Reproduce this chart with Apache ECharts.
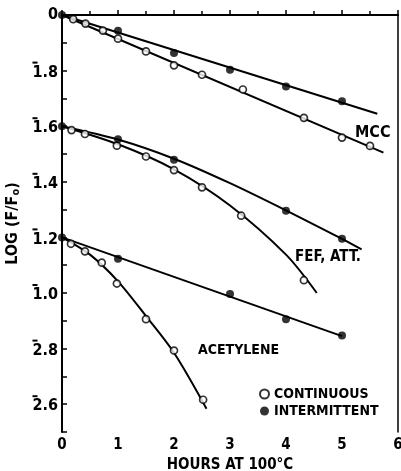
<!DOCTYPE html>
<html>
<head>
<meta charset="utf-8">
<script src="https://cdn.jsdelivr.net/npm/echarts@6/dist/echarts.min.js"></script>
<style>
  html, body { margin: 0; padding: 0; background: #fff; }
  #chart { width: 401px; height: 471px; }
</style>
</head>
<body>
<div id="chart"></div>
<script>
'use strict';
// tick labels (log notation, bar over the characteristic)
var yTickValues = [0, -0.2, -0.4, -0.6, -0.8, -1.0, -1.2, -1.4];
var yTickBar = [false, true, true, true, true, true, true, true];
var yTickLabels = ['0', '1.8', '1.6', '1.4', '1.2', '1.0', '2.8', '2.6'];
var xTickLabels = ['0', '1', '2', '3', '4', '5', '6'];

// measured points [hours, log(F/Fo)]
var mccCont = [[0.2, -0.015], [0.42, -0.031], [0.73, -0.056], [1.0, -0.085], [1.5, -0.131], [2.0, -0.181],
  [2.5, -0.215], [3.23, -0.268], [4.32, -0.37], [5.0, -0.441], [5.5, -0.471]];
var mccInt = [[0, 0], [1.0, -0.057], [2.0, -0.137], [3.0, -0.197], [4.0, -0.257], [5.0, -0.31]];
var fefCont = [[0.17, -0.414], [0.41, -0.428], [0.98, -0.47], [1.5, -0.509], [2.0, -0.558], [2.5, -0.62],
  [3.2, -0.722], [4.32, -0.954]];
var fefInt = [[0, -0.4], [1.0, -0.447], [2.0, -0.521], [4.0, -0.704], [5.0, -0.805]];
var acetCont = [[0.16, -0.823], [0.41, -0.85], [0.71, -0.891], [0.98, -0.966], [1.5, -1.094], [2.0, -1.207], [2.52, -1.384]];
var acetInt = [[0, -0.8], [1.0, -0.877], [3.0, -1.004], [4.0, -1.094], [5.0, -1.153]];

// hand drawn fit curves
var mccContFit = [[0, 0], [5.74, -0.495]];
var mccIntFit = [[0, 0], [5.63, -0.355]];
var fefContFit = [[0, -0.4], [1, -0.465], [2, -0.555], [3, -0.685], [4, -0.862], [4.55, -1.0]];
var fefIntFit = [[0, -0.4], [1, -0.448], [2, -0.517], [3, -0.605], [4, -0.703], [5, -0.805], [5.35, -0.843]];
var acetContFit = [[0, -0.8], [0.5, -0.862], [1, -0.958], [1.5, -1.083], [2, -1.215], [2.58, -1.416]];
var acetIntFit = [[0, -0.8], [5.0, -1.155]];

var FONT = '"Liberation Sans Narrow", "DejaVu Sans Condensed", sans-serif';
var chart = echarts.init(document.getElementById('chart'));

function fitLine(data) {
  return {
    type: 'line', data: data, smooth: data.length > 2 ? 0.3 : false,
    showSymbol: false, silent: true,
    lineStyle: { color: '#000', width: 2 }, z: 2
  };
}
function openPts(data) {
  return {
    name: 'CONTINUOUS', type: 'scatter', data: data, symbol: 'circle', symbolSize: 7,
    itemStyle: { color: '#fff', borderColor: '#000', borderWidth: 1.7 }, z: 3
  };
}
function filledPts(data) {
  return {
    name: 'INTERMITTENT', type: 'scatter', data: data, symbol: 'circle', symbolSize: 8,
    itemStyle: { color: '#000' }, z: 4
  };
}

chart.setOption({
  animation: false,
  backgroundColor: '#fff',
  grid: { left: 62, right: 3, top: 15, bottom: 39, containLabel: false, outerBoundsMode: 'none' },
  xAxis: [{
    type: 'value', min: 0, max: 6, interval: 1,
    axisLine: { lineStyle: { color: '#000', width: 2 } },
    axisTick: { inside: true, length: 5, lineStyle: { color: '#000', width: 1.5 } },
    minorTick: { show: true, splitNumber: 2, length: 4, lineStyle: { color: '#000', width: 1.5 } },
    splitLine: { show: false },
    axisLabel: {
      margin: 6, color: '#000', fontFamily: FONT, fontWeight: 'bold', fontSize: 15,
      formatter: function(v) { return xTickLabels[Math.round(v)]; }
    },
    name: 'HOURS AT 100\u00b0C', nameLocation: 'middle', nameGap: 24,
    nameTextStyle: { color: '#000', fontFamily: FONT, fontWeight: 'bold', fontSize: 15 }
  }, {
    type: 'value', position: 'top', min: 0, max: 6,
    axisLine: { show: true, onZero: false, lineStyle: { color: '#000', width: 1.5 } },
    axisTick: { show: false }, axisLabel: { show: false }, splitLine: { show: false }
  }],
  yAxis: [{
    type: 'value', min: -1.5, max: 0, interval: 0.1,
    axisLine: { lineStyle: { color: '#000', width: 2 } },
    axisTick: { inside: true, length: 5, lineStyle: { color: '#000', width: 1.5 } },
    splitLine: { show: false },
    axisLabel: {
      margin: 4, color: '#000', fontFamily: FONT, fontWeight: 'bold', fontSize: 16,
      formatter: function(v) {
        var k = Math.round(v * 10);
        for (var i = 0; i < yTickValues.length; i++) {
          if (Math.round(yTickValues[i] * 10) === k) {
            return yTickBar[i] ? '{bar| }\n{num|' + yTickLabels[i] + '}' : '{num|' + yTickLabels[i] + '}';
          }
        }
        return '';
      },
      rich: {
        bar: { width: 5, height: 2, lineHeight: 4, backgroundColor: '#000', align: 'left', fontSize: 2 },
        num: { fontFamily: FONT, fontWeight: 'bold', fontSize: 16, color: '#000', lineHeight: 16 }
      }
    },
    name: 'LOG (F/F{sub|o})', nameLocation: 'middle', nameGap: 34,
    nameTextStyle: {
      color: '#000', fontFamily: FONT, fontWeight: 'bold', fontSize: 16,
      rich: { sub: { fontFamily: FONT, fontWeight: 'bold', fontSize: 11, verticalAlign: 'bottom', padding: [7, 0, 0, 0] } }
    }
  }, {
    type: 'value', position: 'right', min: -1.5, max: 0,
    axisLine: { show: true, onZero: false, lineStyle: { color: '#000', width: 1.5 } },
    axisTick: { show: false }, axisLabel: { show: false }, splitLine: { show: false }
  }],
  legend: {
    orient: 'vertical', left: 254, top: 382, itemGap: 3, itemWidth: 9, itemHeight: 9,
    data: [{ name: 'CONTINUOUS', icon: 'circle' }, { name: 'INTERMITTENT', icon: 'circle' }],
    textStyle: { color: '#000', fontFamily: FONT, fontWeight: 'bold', fontSize: 14 },
    selectedMode: false
  },
  graphic: [
    { type: 'text', left: 355, top: 125, style: { text: 'MCC', font: 'bold 16px ' + FONT, fill: '#000' } },
    { type: 'text', left: 295, top: 250, style: { text: 'FEF, ATT.', font: 'bold 15px ' + FONT, fill: '#000' } },
    { type: 'text', left: 198, top: 343, style: { text: 'ACETYLENE', font: 'bold 14px ' + FONT, fill: '#000' } }
  ],
  series: [
    fitLine(mccContFit), fitLine(mccIntFit), fitLine(fefContFit), fitLine(fefIntFit),
    fitLine(acetContFit), fitLine(acetIntFit),
    openPts(mccCont), openPts(fefCont), openPts(acetCont),
    filledPts(mccInt), filledPts(fefInt), filledPts(acetInt)
  ]
});
</script>
</body>
</html>
